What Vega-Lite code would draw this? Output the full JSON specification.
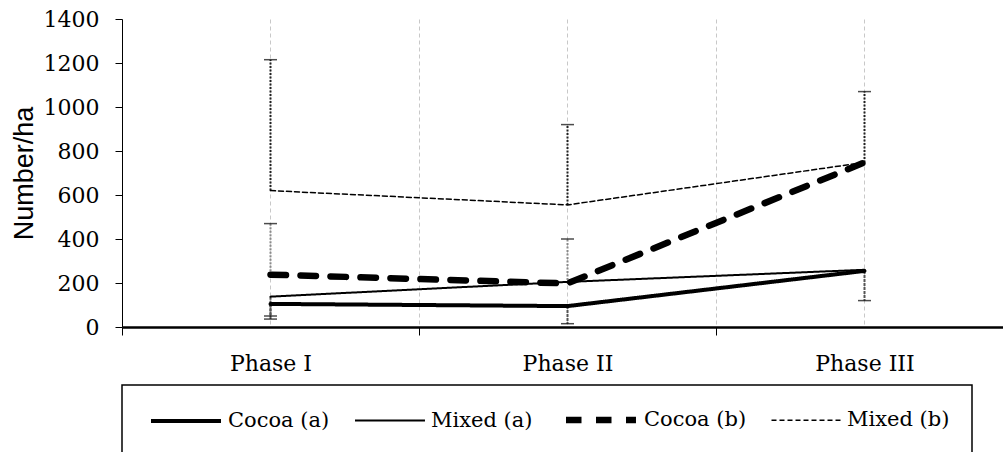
{
  "$schema": "https://vega.github.io/schema/vega-lite/v6.json",
  "width": 881,
  "height": 308,
  "autosize": {"type": "none"},
  "padding": {"left": 122, "top": 19, "right": 0, "bottom": 125},
  "background": "white",
  "config": {"view": {"stroke": null}, "font": "DejaVu Serif"},
  "datasets": {
    "lines": [
      {"series": "Cocoa (a)", "phase": "Phase I", "value": 105},
      {"series": "Cocoa (a)", "phase": "Phase II", "value": 95},
      {"series": "Cocoa (a)", "phase": "Phase III", "value": 255},
      {"series": "Mixed (a)", "phase": "Phase I", "value": 138},
      {"series": "Mixed (a)", "phase": "Phase II", "value": 205},
      {"series": "Mixed (a)", "phase": "Phase III", "value": 260},
      {"series": "Cocoa (b)", "phase": "Phase I", "value": 238},
      {"series": "Cocoa (b)", "phase": "Phase II", "value": 198},
      {"series": "Cocoa (b)", "phase": "Phase III", "value": 748},
      {"series": "Mixed (b)", "phase": "Phase I", "value": 620},
      {"series": "Mixed (b)", "phase": "Phase II", "value": 555},
      {"series": "Mixed (b)", "phase": "Phase III", "value": 748}
    ],
    "errors": [
      {"series": "Mixed (b)", "phase": "Phase I", "mean": 620, "end": 1215},
      {"series": "Mixed (b)", "phase": "Phase II", "mean": 555, "end": 920},
      {"series": "Mixed (b)", "phase": "Phase III", "mean": 748, "end": 1070},
      {"series": "Cocoa (b)", "phase": "Phase I", "mean": 238, "end": 470},
      {"series": "Cocoa (b)", "phase": "Phase II", "mean": 198, "end": 400},
      {"series": "Mixed (a)", "phase": "Phase I", "mean": 138, "end": 50},
      {"series": "Cocoa (a)", "phase": "Phase I", "mean": 105, "end": 36},
      {"series": "Cocoa (a)", "phase": "Phase II", "mean": 95, "end": 15},
      {"series": "Cocoa (a)", "phase": "Phase III", "mean": 255, "end": 120}
    ]
  },
  "resolve": {"axis": {"x": "independent"}},
  "layer": [
    {
      "data": {"name": "errors"},
      "transform": [{"filter": "datum.series === 'Mixed (b)'"}],
      "mark": {"type": "rule", "strokeWidth": 2, "strokeDash": [2, 1.5], "color": "#222222"},
      "encoding": {
        "x": {
          "field": "phase", "type": "nominal",
          "scale": {"domain": ["Phase I", "Phase II", "Phase III"], "range": [0, 891], "paddingInner": 0, "paddingOuter": 0},
          "axis": {"orient": "bottom", "grid": true, "tickBand": "center", "labels": false, "ticks": false, "domain": false, "title": null, "gridColor": "#c8c8c8", "gridDash": [4, 3], "gridWidth": 1}
        },
        "y": {"field": "mean", "type": "quantitative"},
        "y2": {"field": "end"}
      }
    },
    {
      "data": {"name": "errors"},
      "transform": [{"filter": "datum.series === 'Cocoa (b)'"}],
      "mark": {"type": "rule", "strokeWidth": 2, "strokeDash": [2, 1.5], "color": "#8a8a8a"},
      "encoding": {
        "x": {"field": "phase", "type": "nominal", "axis": null},
        "y": {"field": "mean", "type": "quantitative"},
        "y2": {"field": "end"}
      }
    },
    {
      "data": {"name": "errors"},
      "transform": [{"filter": "datum.series === 'Cocoa (a)' || datum.series === 'Mixed (a)'"}],
      "mark": {"type": "rule", "strokeWidth": 2, "strokeDash": [3, 1], "color": "#555555"},
      "encoding": {
        "x": {"field": "phase", "type": "nominal", "axis": null},
        "y": {"field": "mean", "type": "quantitative"},
        "y2": {"field": "end"}
      }
    },
    {
      "data": {"name": "errors"},
      "mark": {"type": "tick", "thickness": 1.5, "size": 13, "color": "black"},
      "encoding": {
        "x": {"field": "phase", "type": "nominal", "axis": null},
        "y": {"field": "end", "type": "quantitative"}
      }
    },
    {
      "data": {"name": "lines"},
      "mark": {"type": "line", "color": "black", "strokeCap": "round", "strokeJoin": "round"},
      "encoding": {
        "x": {
          "field": "phase", "type": "nominal", "sort": ["Phase I", "Phase II", "Phase III"],
          "axis": {"orient": "bottom", "title": null, "labelAngle": 0, "tickBand": "extent", "grid": true, "gridColor": "#c8c8c8", "gridDash": [4, 3], "gridWidth": 1, "domainColor": "black", "domainWidth": 2.5, "tickColor": "black", "tickSize": 8, "tickWidth": 1, "labelFont": "DejaVu Serif", "labelFontSize": 22, "labelColor": "black", "labelPadding": 18}
        },
        "y": {
          "field": "value", "type": "quantitative",
          "scale": {"domain": [0, 1400], "nice": false},
          "axis": {"values": [0, 200, 400, 600, 800, 1000, 1200, 1400], "format": "d", "grid": false, "title": "Number/ha", "titleFont": "Liberation Sans", "titleFontSize": 27, "titleFontWeight": "normal", "titleColor": "black", "titlePadding": 5, "labelFont": "DejaVu Serif", "labelFontSize": 22, "labelColor": "black", "labelPadding": 16, "tickSize": 7, "tickColor": "black", "domainColor": "black", "domainWidth": 1}
        },
        "strokeDash": {
          "field": "series", "type": "nominal",
          "scale": {"domain": ["Cocoa (a)", "Mixed (a)", "Cocoa (b)", "Mixed (b)"], "range": [[1, 0], [1, 0], [15.5, 14.5], [5, 3]]},
          "legend": {"orient": "bottom", "direction": "horizontal", "title": null, "symbolType": "M-0.513,0H6.667", "symbolSize": 380, "symbolStrokeColor": "black", "symbolFillColor": "transparent", "labelFont": "DejaVu Serif", "labelFontSize": 21, "labelColor": "black", "labelOffset": 60, "columnPadding": 19, "padding": 22, "strokeColor": "black", "offset": 11, "labelLimit": 0, "encode": {"legend": {"update": {"strokeWidth": {"value": 1.5}}}}}
        },
        "strokeWidth": {
          "field": "series", "type": "nominal",
          "scale": {"type": "ordinal", "domain": ["Cocoa (a)", "Mixed (a)", "Cocoa (b)", "Mixed (b)"], "range": [4, 2, 6.5, 1.5]},
          "legend": {"orient": "bottom", "direction": "horizontal", "title": null, "symbolType": "M-0.513,0H6.667", "symbolSize": 380, "symbolStrokeColor": "black", "symbolFillColor": "transparent", "labelFont": "DejaVu Serif", "labelFontSize": 21, "labelColor": "black", "labelOffset": 60, "columnPadding": 19, "padding": 22, "strokeColor": "black", "offset": 11, "labelLimit": 0, "encode": {"legend": {"update": {"strokeWidth": {"value": 1.5}}}}}
        }
      }
    }
  ]
}
